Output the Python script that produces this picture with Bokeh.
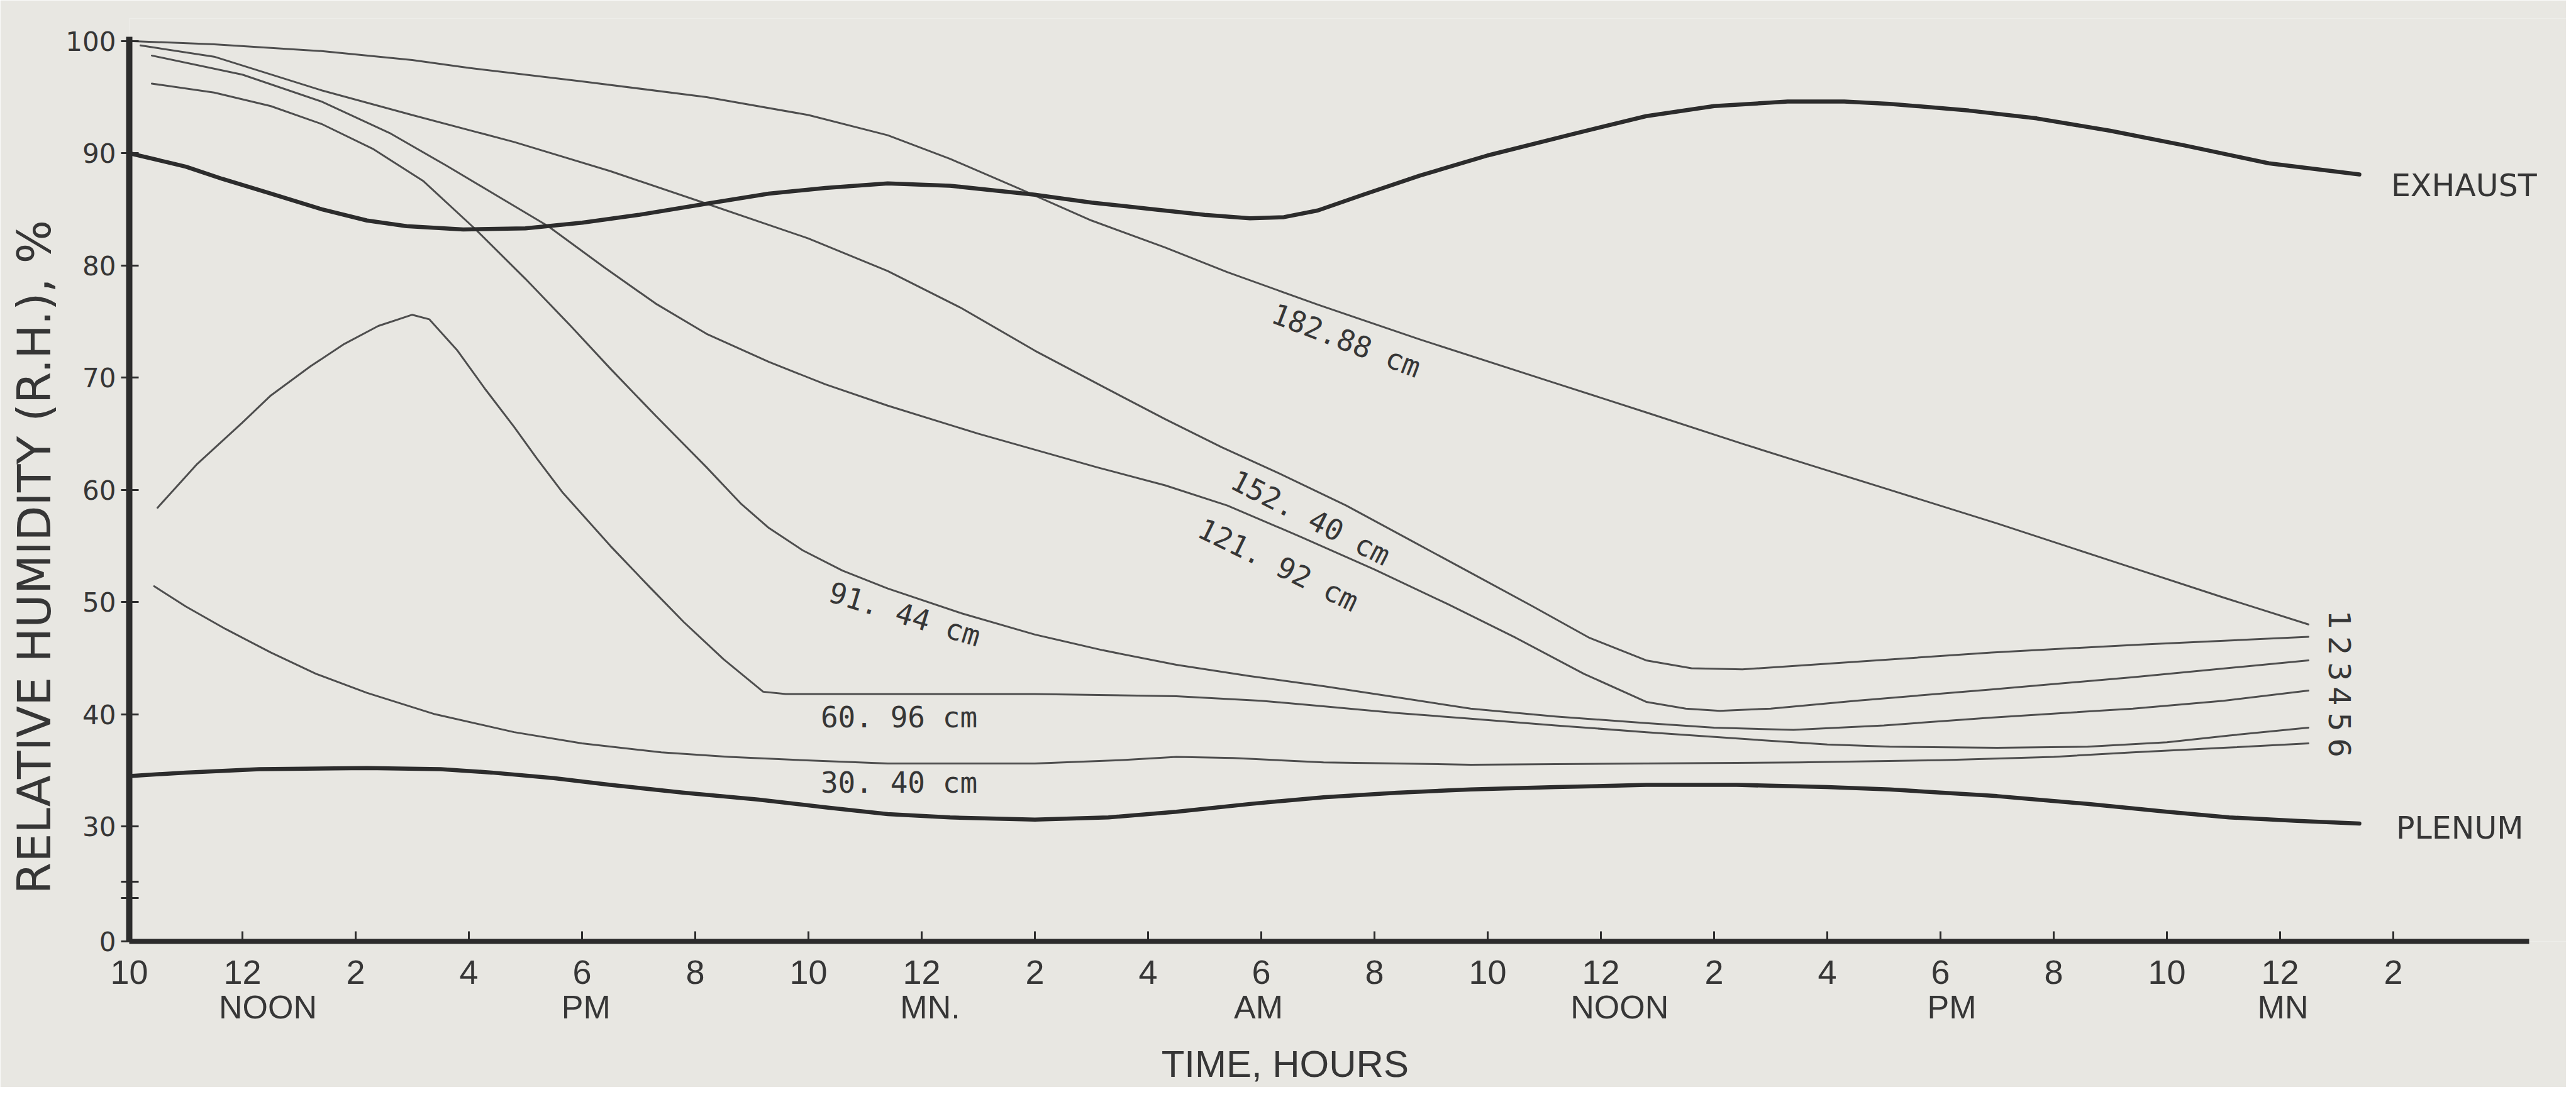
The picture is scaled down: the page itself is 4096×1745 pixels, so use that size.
import math
from bokeh.plotting import figure
from bokeh.models import Range1d, FixedTicker, LinearAxis
from bokeh.core.properties import value
from bokeh.embed import file_html
from bokeh.resources import INLINE

# ---------------- data (hour counted from midnight of day 1, RH in %) ----------------
exhaust = [(10.0, 90.0), (11.0, 88.8), (11.65, 87.7), (12.5, 86.4), (13.4, 85.0), (14.2, 84.0),
           (14.9, 83.5), (15.9, 83.2), (17.0, 83.3), (18.0, 83.8), (19.0, 84.5), (20.2, 85.5),
           (21.3, 86.4), (22.3, 86.9), (23.4, 87.3), (24.5, 87.1), (26.0, 86.3), (27.0, 85.6),
           (28.1, 85.0), (29.0, 84.5), (29.8, 84.2), (30.4, 84.3), (31.0, 84.9), (31.8, 86.3),
           (32.8, 88.0), (34.0, 89.8), (35.5, 91.7), (36.8, 93.3), (38.0, 94.2), (39.3, 94.6),
           (40.3, 94.6), (41.1, 94.4), (42.5, 93.8), (43.7, 93.1), (45.0, 92.0), (46.3, 90.7),
           (47.8, 89.1), (49.4, 88.1)]

depth_182_88 = [(10.0, 100.0), (11.5, 99.7), (13.4, 99.1), (15.0, 98.3), (16.0, 97.6), (18.0, 96.4),
                (20.2, 95.0), (22.0, 93.4), (23.4, 91.6), (24.5, 89.5), (25.7, 86.9), (27.0, 84.0),
                (28.3, 81.6), (29.4, 79.4), (31.0, 76.5), (32.8, 73.4), (35.2, 69.5), (36.8, 66.9),
                (38.5, 64.1), (39.7, 62.2), (41.1, 60.0), (43.0, 57.0), (45.0, 53.7), (47.0, 50.4),
                (48.5, 48.0)]

depth_152_40 = [(10.2, 99.6), (11.5, 98.6), (13.4, 95.6), (15.0, 93.4), (16.8, 91.0), (18.5, 88.4),
                (20.2, 85.5), (22.0, 82.4), (23.4, 79.5), (24.7, 76.2), (26.0, 72.4), (27.2, 69.2),
                (28.3, 66.3), (29.3, 63.8), (30.3, 61.5), (31.5, 58.6), (32.6, 55.6), (33.7, 52.6),
                (34.8, 49.6), (35.8, 46.8), (36.8, 44.8), (37.6, 44.1), (38.5, 44.0), (40.0, 44.5),
                (42.9, 45.5), (45.5, 46.2), (48.5, 46.9)]

depth_121_92 = [(10.4, 98.7), (12.0, 97.0), (13.4, 94.6), (14.6, 91.8), (15.6, 88.9), (16.5, 86.2),
                (17.4, 83.5), (18.4, 79.8), (19.3, 76.6), (20.2, 73.9), (21.3, 71.4), (22.3, 69.4),
                (23.4, 67.5), (25.0, 65.0), (27.1, 62.0), (28.3, 60.4), (29.4, 58.6), (30.7, 55.8),
                (32.0, 52.9), (33.3, 49.8), (34.5, 46.8), (35.7, 43.6), (36.8, 41.1), (37.5, 40.5),
                (38.1, 40.3), (39.0, 40.5), (40.5, 41.2), (42.9, 42.2), (45.4, 43.3), (48.5, 44.8)]

depth_91_44 = [(10.4, 96.2), (11.5, 95.4), (12.5, 94.2), (13.4, 92.6), (14.3, 90.4), (15.2, 87.5),
               (16.1, 83.3), (17.0, 78.8), (17.8, 74.6), (18.5, 70.8), (19.3, 66.6), (20.2, 62.0),
               (20.8, 58.8), (21.3, 56.6), (21.9, 54.6), (22.6, 52.8), (23.4, 51.2), (24.7, 49.0),
               (26.0, 47.1), (27.2, 45.7), (28.5, 44.4), (29.8, 43.4), (31.1, 42.5), (32.4, 41.5),
               (33.7, 40.5), (35.2, 39.8), (36.8, 39.2), (38.0, 38.8), (39.4, 38.6), (41.0, 39.0),
               (42.9, 39.7), (45.4, 40.5), (47.0, 41.2), (48.5, 42.1)]

depth_60_96 = [(10.5, 58.4), (11.2, 62.3), (12.0, 66.0), (12.5, 68.4), (13.2, 71.0), (13.8, 73.0),
               (14.4, 74.6), (15.0, 75.6), (15.3, 75.2), (15.8, 72.4), (16.3, 68.9), (16.8, 65.6),
               (17.2, 62.8), (17.65, 59.8), (18.5, 55.0), (19.2, 51.3), (19.8, 48.2), (20.5, 44.9),
               (21.2, 42.0), (21.6, 41.8), (23.4, 41.8), (26.0, 41.8), (28.5, 41.6), (30.0, 41.2),
               (31.1, 40.7), (32.4, 40.1), (33.7, 39.6), (35.2, 39.0), (36.8, 38.4), (38.5, 37.8),
               (40.0, 37.3), (41.1, 37.1), (43.0, 37.0), (44.6, 37.1), (46.0, 37.5), (47.1, 38.1),
               (48.5, 38.8)]

depth_30_40 = [(10.44, 51.4), (11.0, 49.6), (11.7, 47.6), (12.5, 45.5), (13.3, 43.6), (14.2, 41.9),
               (15.4, 40.0), (16.8, 38.4), (18.0, 37.4), (19.4, 36.6), (20.6, 36.2), (21.9, 35.9),
               (23.4, 35.6), (26.0, 35.6), (27.5, 35.9), (28.5, 36.2), (29.5, 36.1), (31.1, 35.7),
               (33.7, 35.5), (36.8, 35.6), (39.5, 35.7), (42.0, 35.9), (44.0, 36.2), (45.4, 36.6),
               (47.0, 37.0), (48.5, 37.4)]

plenum = [(10.05, 34.5), (11.0, 34.8), (12.3, 35.1), (14.2, 35.2), (15.5, 35.1), (16.4, 34.8),
          (17.5, 34.3), (18.5, 33.7), (19.8, 33.0), (21.1, 32.4), (22.3, 31.7), (23.4, 31.1),
          (24.5, 30.8), (26.0, 30.6), (27.3, 30.8), (28.5, 31.3), (29.8, 32.0), (31.1, 32.6),
          (32.4, 33.0), (33.7, 33.3), (35.2, 33.5), (36.8, 33.7), (38.4, 33.7), (40.0, 33.5),
          (41.1, 33.3), (43.0, 32.7), (44.6, 32.0), (46.0, 31.3), (47.1, 30.8), (48.3, 30.5),
          (49.4, 30.25)]

depth_series = [depth_182_88, depth_152_40, depth_121_92, depth_91_44, depth_60_96, depth_30_40]
depth_labels = ["182.88 cm", "152. 40 cm", "121. 92 cm", "91. 44 cm", "60. 96 cm", "30. 40 cm"]
end_numbers = ["1", "2", "3", "4", "5", "6"]

# axis ticks / labels
hour_ticks = list(range(10, 51, 2))
hour_tick_labels = ["10", "12", "2", "4", "6", "8", "10", "12", "2", "4", "6", "8",
                    "10", "12", "2", "4", "6", "8", "10", "12", "2"]
period_hours = [12.45, 18.07, 24.15, 29.95, 36.33, 42.2, 48.05]
period_labels = ["NOON", "PM", "MN.", "AM", "NOON", "PM", "MN"]
rh_ticks = [30, 40, 50, 60, 70, 80, 90, 100]
rh_origin = 19.75          # broken axis: the "0" sits just below the break
rh_break_marks = [23.6, 25.1]
x_title = "TIME, HOURS"
y_title = "RELATIVE HUMIDITY (R.H.), %"

# ---------------- styling / layout ----------------
PAPER = "#e8e7e2"
INK = "#2c2c2c"
THIN = "#4e4e4e"
TEXT = "#363636"

W, H = 4080, 1729
LEFT, TOP, BOTTOM = 205, 29, 232
X_END = 10 + (W - LEFT) / 90.0

p = figure(width=W, height=H, x_range=Range1d(10, X_END), y_range=Range1d(rh_origin, 102),
           output_backend="svg", toolbar_location=None,
           min_border_left=LEFT, min_border_right=0, min_border_top=TOP, min_border_bottom=BOTTOM,
           background_fill_color=PAPER, border_fill_color=PAPER, outline_line_color=None)
p.grid.visible = False

# curves
for series in depth_series:
    xs, ys = zip(*series)
    p.line(list(xs), list(ys), line_color=THIN, line_width=3, line_join="round", line_cap="round")
for series in (exhaust, plenum):
    xs, ys = zip(*series)
    p.line(list(xs), list(ys), line_color=INK, line_width=6.5, line_join="round", line_cap="round")

# curve labels
lab_x = [31.5, 30.87, 30.3, 23.7, 23.6, 23.6]
lab_y = [73.3, 57.5, 53.3, 48.9, 39.7, 33.9]
lab_deg = [-21, -27, -26, -17, 0, 0]
p.text(x=lab_x, y=lab_y, text=depth_labels, angle=[math.radians(d) for d in lab_deg],
       text_font=value("DejaVu Sans Mono"), text_font_size="46px", text_color=TEXT,
       text_align="center", text_baseline="middle")

# numbers at the right ends of the six depth curves (stacked column)
num_y = [48.4, 46.1, 43.8, 41.6, 39.3, 37.0]
p.text(x=[49.05] * 6, y=num_y, text=end_numbers, angle=-math.pi / 2,
       text_font=value("DejaVu Sans"), text_font_size="48px", text_color=TEXT,
       text_align="center", text_baseline="middle")

p.text(x=[49.96, 50.05], y=[87.1, 29.85], text=["EXHAUST", "PLENUM"],
       text_font=value("DejaVu Sans"), text_font_size="49px", text_color=TEXT,
       text_align="left", text_baseline="middle")

# ---------------- y axis (broken: 0, then 30-100) ----------------
ya = p.yaxis[0]
ya.ticker = FixedTicker(ticks=[rh_origin] + rh_break_marks + rh_ticks, minor_ticks=[])
ov = {rh_origin: "0"}
for b in rh_break_marks:
    ov[b] = ""
for t in rh_ticks:
    ov[t] = str(t)
ya.major_label_overrides = ov
ya.bounds = (rh_origin, 100.4)
ya.axis_line_width = 10
ya.axis_line_color = INK
ya.major_tick_in = 15
ya.major_tick_out = 13
ya.major_tick_line_width = 3
ya.major_tick_line_color = INK
ya.minor_tick_line_color = None
ya.major_label_standoff = 8
ya.major_label_text_font = "DejaVu Sans"
ya.major_label_text_font_size = "42px"
ya.major_label_text_color = TEXT

# y title, placed where the original lettering sits along the axis
y_title_pos = 54.0
y_title_axis = LinearAxis(ticker=FixedTicker(ticks=[y_title_pos], minor_ticks=[]),
                          major_label_overrides={y_title_pos: y_title},
                          major_label_orientation="parallel",
                          axis_line_color=None, major_tick_line_color=None, minor_tick_line_color=None,
                          major_tick_in=0, major_tick_out=0, major_label_standoff=4,
                          major_label_text_font="DejaVu Sans", major_label_text_font_size="73px",
                          major_label_text_color=TEXT)
p.add_layout(y_title_axis, "left")

# ---------------- x axis (time) ----------------
xa = p.xaxis[0]
xa.ticker = FixedTicker(ticks=hour_ticks, minor_ticks=[])
xa.major_label_overrides = dict(zip(hour_ticks, hour_tick_labels))
xa.bounds = (10, 52.4)
xa.axis_line_width = 8
xa.axis_line_color = INK
xa.major_tick_in = 16
xa.major_tick_out = 0
xa.major_tick_line_width = 3
xa.major_tick_line_color = INK
xa.minor_tick_line_color = None
xa.major_label_standoff = 30
xa.major_label_text_font = "Liberation Sans"
xa.major_label_text_font_size = "54px"
xa.major_label_text_color = TEXT

period_axis = LinearAxis(ticker=FixedTicker(ticks=period_hours, minor_ticks=[]),
                         major_label_overrides=dict(zip(period_hours, period_labels)),
                         axis_line_color=None, major_tick_line_color=None, minor_tick_line_color=None,
                         major_tick_in=0, major_tick_out=0, major_label_standoff=5,
                         major_label_text_font="Liberation Sans", major_label_text_font_size="52px",
                         major_label_text_color=TEXT)
p.add_layout(period_axis, "below")

x_title_pos = 30.42
x_title_axis = LinearAxis(ticker=FixedTicker(ticks=[x_title_pos], minor_ticks=[]),
                          major_label_overrides={x_title_pos: x_title},
                          axis_line_color=None, major_tick_line_color=None, minor_tick_line_color=None,
                          major_tick_in=0, major_tick_out=0, major_label_standoff=25,
                          major_label_text_font="Liberation Sans", major_label_text_font_size="60px",
                          major_label_text_color=TEXT)
p.add_layout(x_title_axis, "below")

open("out.html", "w").write(file_html(p, INLINE))
